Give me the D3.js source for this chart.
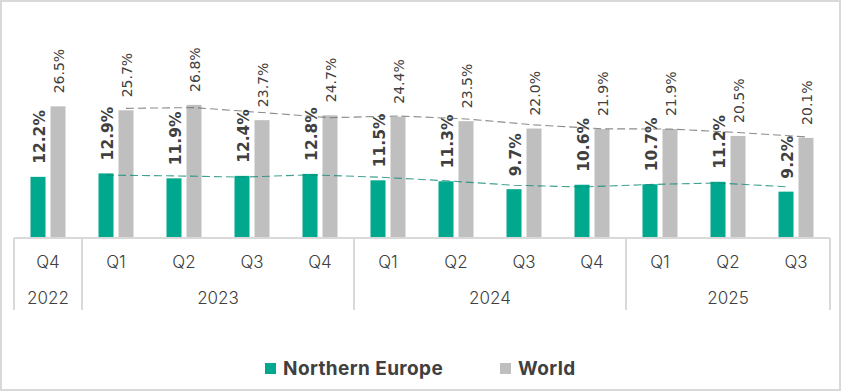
<!DOCTYPE html>
<html>
<head>
<meta charset="utf-8">
<script src="https://cdn.jsdelivr.net/npm/d3@7"></script>
<style>
  body { margin: 0; background: #fff; }
  svg { display: block; }
</style>
</head>
<body>
<div id="chart"></div>
<script>
const width = 843;
const height = 392;

// data
const quarters = ["Q4", "Q1", "Q2", "Q3", "Q4", "Q1", "Q2", "Q3", "Q4", "Q1", "Q2", "Q3"];
const years = ["2022", "2023", "2024", "2025"];
const yearStarts = [0, 1, 5, 9, 12];
const northernEurope = [12.2, 12.9, 11.9, 12.4, 12.8, 11.5, 11.3, 9.7, 10.6, 10.7, 11.2, 9.2];
const world = [26.5, 25.7, 26.8, 23.7, 24.7, 24.4, 23.5, 22.0, 21.9, 21.9, 20.5, 20.1];
const seriesNames = ["Northern Europe", "World"];
const colors = ["#00a88e", "#bfbfbf"];
const trendColors = ["#138b77", "#6e6e6e"];

const svg = d3.select("#chart")
  .append("svg")
  .attr("width", width)
  .attr("height", height);

// outer frame
svg.append("rect")
  .attr("x", 1)
  .attr("y", 1)
  .attr("width", width - 4)
  .attr("height", height - 3)
  .attr("fill", "#fff")
  .attr("stroke", "#d9d9d9")
  .attr("stroke-width", 2);

const idx = d3.range(quarters.length);

const x = d3.scaleBand()
  .domain(idx)
  .range([14, 830]);

const y = d3.scaleLinear()
  .domain([0, 40])
  .range([237, 39.8]);

const barW = 15;
const gap = 5;
const offsets = [-(barW + gap / 2), gap / 2];
const series = [northernEurope, world];

function barX(i, s) {
  return x(i) + x.bandwidth() / 2 + offsets[s];
}

// moving average trendline (2 periods), like Excel
function movingAvg(vals) {
  return vals.slice(1).map((v, k) => ({ i: k + 1, v: d3.mean([vals[k], v]) }));
}

series.forEach(function(vals, s) {
  svg.append("g")
    .selectAll("rect")
    .data(vals)
    .enter().append("rect")
    .attr("x", (d, i) => barX(i, s))
    .attr("y", d => y(d))
    .attr("width", barW)
    .attr("height", d => y(0) - y(d))
    .attr("fill", colors[s]);
});

series.forEach(function(vals, s) {
  const line = d3.line()
    .x(d => barX(d.i, s) + barW / 2)
    .y(d => y(d.v));
  svg.append("path")
    .datum(movingAvg(vals))
    .attr("d", line)
    .attr("fill", "none")
    .attr("stroke", trendColors[s])
    .attr("stroke-width", 1.1)
    .attr("stroke-opacity", 0.8)
    .attr("stroke-dasharray", "8,4");
});

// data labels
series.forEach(function(vals, s) {
  svg.append("g")
    .selectAll("text")
    .data(vals)
    .enter().append("text")
    .attr("transform", (d, i) => `translate(${barX(i, s) + barW / 2 + 1},${y(d) - 13}) rotate(-90)`)
    .attr("dy", "0.36em")
    .attr("font-family", "DejaVu Sans, Verdana, sans-serif")
    .attr("font-size", s === 0 ? 15.5 : 14)
    .attr("font-weight", s === 0 ? "bold" : "normal")
    .attr("fill", "#404040")
    .text(d => d.toFixed(1) + "%");
});

// category axis
const axisG = svg.append("g")
  .attr("stroke", "#d9d9d9")
  .attr("stroke-width", 2);

axisG.append("line")
  .attr("x1", 14)
  .attr("x2", 830)
  .attr("y1", 238)
  .attr("y2", 238);

axisG.selectAll(".sep")
  .data(yearStarts)
  .enter().append("line")
  .attr("x1", d => 14 + d * x.step())
  .attr("x2", d => 14 + d * x.step())
  .attr("y1", 238)
  .attr("y2", 310);

svg.append("g")
  .selectAll("text")
  .data(quarters)
  .enter().append("text")
  .attr("x", (d, i) => x(i) + x.bandwidth() / 2)
  .attr("y", 268)
  .attr("text-anchor", "middle")
  .attr("font-family", "Inter, sans-serif")
  .attr("font-size", 17)
  .attr("font-weight", 300)
  .attr("fill", "#404040")
  .text(d => d);

svg.append("g")
  .selectAll("text")
  .data(years)
  .enter().append("text")
  .attr("x", (d, i) => 14 + (yearStarts[i] + yearStarts[i + 1]) / 2 * x.step())
  .attr("y", 304)
  .attr("text-anchor", "middle")
  .attr("font-family", "Inter, sans-serif")
  .attr("font-size", 17)
  .attr("font-weight", 300)
  .attr("fill", "#404040")
  .text(d => d);

// legend
const legendX = [265, 500];
const legend = svg.append("g");
seriesNames.forEach(function(name, s) {
  legend.append("rect")
    .attr("x", legendX[s])
    .attr("y", 363)
    .attr("width", 11)
    .attr("height", 11)
    .attr("fill", colors[s]);
  legend.append("text")
    .attr("x", legendX[s] + 18)
    .attr("y", 375)
    .attr("font-family", "Inter, sans-serif")
    .attr("font-size", 19)
    .attr("font-weight", "bold")
    .attr("letter-spacing", 0.4)
    .attr("fill", "#404040")
    .text(name);
});
</script>
</body>
</html>
